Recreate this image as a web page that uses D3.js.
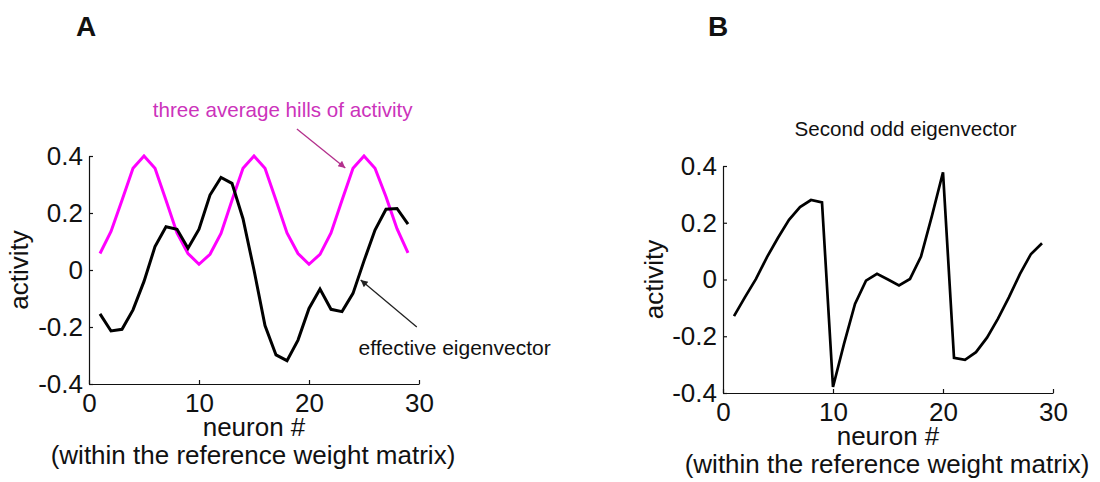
<!DOCTYPE html>
<html>
<head>
<meta charset="utf-8">
<script src="https://cdn.jsdelivr.net/npm/d3@7"></script>
<style>
  body { margin: 0; background: #fff; }
  svg { display: block; font-family: "Liberation Sans", Arial, Helvetica, sans-serif; }
  .axis path, .axis line { stroke: #111; stroke-width: 1.2; }
  .axis text { fill: #111; font-size: 26px; }
</style>
</head>
<body>
<svg id="fig" width="1100" height="482"></svg>
<script>
// neuron index along the reference weight matrix
var neurons = [1, 2, 3, 4, 5, 6, 7, 8, 9, 10, 11, 12, 13, 14, 15, 16, 17, 18, 19, 20, 21, 22, 23, 24, 25, 26, 27, 28, 29];

// panel A: three average hills of activity (magenta)
var hills = [0.058, 0.135, 0.245, 0.357, 0.40, 0.357, 0.245, 0.13, 0.058, 0.02,
             0.055, 0.128, 0.245, 0.357, 0.40, 0.357, 0.245, 0.13, 0.058, 0.02,
             0.055, 0.13, 0.245, 0.357, 0.40, 0.357, 0.257, 0.145, 0.06];

// panel A: effective eigenvector (black)
var effective = [-0.154, -0.214, -0.208, -0.14, -0.04, 0.082, 0.152, 0.143, 0.076, 0.143,
                 0.263, 0.325, 0.304, 0.18, 0.0, -0.195, -0.298, -0.318, -0.246, -0.135,
                 -0.067, -0.138, -0.146, -0.082, 0.032, 0.14, 0.213, 0.216, 0.161];

// panel B: second odd eigenvector
var oddEig = [-0.129, -0.062, 0.002, 0.079, 0.147, 0.21, 0.255, 0.28, 0.272, -0.379,
              -0.227, -0.086, -0.004, 0.02, 0.0, -0.021, 0.002, 0.081, 0.225, 0.378,
              -0.276, -0.283, -0.256, -0.205, -0.138, -0.062, 0.02, 0.09, 0.128];

var xTicks = [0, 10, 20, 30];
var yTicks = [-0.4, -0.2, 0, 0.2, 0.4];
var yTickLabels = ["-0.4", "-0.2", "0", "0.2", "0.4"];

var svg = d3.select("#fig");

var defs = svg.append("defs");
function addArrow(id, color) {
    defs.append("marker")
        .attr("id", id)
        .attr("viewBox", "0 0 10 10")
        .attr("refX", 10).attr("refY", 5)
        .attr("markerWidth", 9).attr("markerHeight", 7)
        .attr("markerUnits", "userSpaceOnUse")
        .attr("orient", "auto")
        .append("path")
        .attr("d", "M0,0 L10,5 L0,10 Z")
        .attr("fill", color);
}
addArrow("headMag", "#b3308c");
addArrow("headBlk", "#222");

function drawPanel(p) {
    var xs = d3.scaleLinear().domain([0, 30]).range([p.left, p.right]);
    var ys = d3.scaleLinear().domain([-0.4, 0.4]).range([p.bottom, p.top]);
    var g = svg.append("g");

    g.append("g")
        .attr("class", "axis")
        .attr("transform", "translate(0," + p.bottom + ")")
        .call(d3.axisBottom(xs).tickValues(xTicks).tickSizeInner(-4).tickSizeOuter(0).tickPadding(10));
    g.append("g")
        .attr("class", "axis")
        .attr("transform", "translate(" + p.left + ",0)")
        .call(d3.axisLeft(ys).tickValues(yTicks).tickSizeInner(-4).tickSizeOuter(0).tickPadding(6)
            .tickFormat(function(d, i) { return yTickLabels[i]; }));
    g.selectAll(".axis").attr("font-family", null).attr("font-size", null);

    var line = d3.line()
        .x(function(d) { return xs(d[0]); })
        .y(function(d) { return ys(d[1]); });

    p.series.forEach(function(s) {
        g.append("path")
            .datum(neurons.map(function(n, i) { return [n, s.values[i]]; }))
            .attr("d", line)
            .attr("fill", "none")
            .attr("stroke", s.color)
            .attr("stroke-width", s.width);
    });

    var cx = (p.left + p.right) / 2;
    g.append("text").attr("x", cx).attr("y", p.bottom + 52)
        .attr("text-anchor", "middle").attr("font-size", 26).attr("fill", "#111")
        .text("neuron #");
    g.append("text").attr("x", cx - 1).attr("y", p.bottom + 80)
        .attr("text-anchor", "middle").attr("font-size", 26).attr("fill", "#111")
        .text("(within the reference weight matrix)");
    g.append("text")
        .attr("transform", "translate(" + p.ylabX + "," + ((p.top + p.bottom) / 2) + ") rotate(-90)")
        .attr("text-anchor", "middle").attr("font-size", 26).attr("fill", "#111")
        .text("activity");
    g.append("text").attr("x", p.letterX).attr("y", 36)
        .attr("font-size", 28).attr("font-weight", "bold").attr("fill", "#111")
        .text(p.letter);

    return { xs: xs, ys: ys, g: g };
}

var A = drawPanel({
    left: 89, right: 419, top: 156, bottom: 384, ylabX: 28, letter: "A", letterX: 76,
    series: [
        { values: hills, color: "#ff00ff", width: 3 },
        { values: effective, color: "#000", width: 3 }
    ]
});

// annotations for panel A
A.g.append("text").attr("x", A.xs(5.8)).attr("y", A.ys(0.537))
    .attr("font-size", 20.6).attr("fill", "#cc33bb")
    .text("three average hills of activity");
A.g.append("line")
    .attr("x1", A.xs(18.9)).attr("y1", A.ys(0.495))
    .attr("x2", A.xs(23.3)).attr("y2", A.ys(0.358))
    .attr("stroke", "#b3308c").attr("stroke-width", 1.3)
    .attr("marker-end", "url(#headMag)");
A.g.append("text").attr("x", A.xs(24.5)).attr("y", A.ys(-0.298))
    .attr("font-size", 21).attr("fill", "#111")
    .text("effective eigenvector");
A.g.append("line")
    .attr("x1", A.xs(29.8)).attr("y1", A.ys(-0.2))
    .attr("x2", A.xs(24.7)).attr("y2", A.ys(-0.035))
    .attr("stroke", "#222").attr("stroke-width", 1.3)
    .attr("marker-end", "url(#headBlk)");

var B = drawPanel({
    left: 723, right: 1053, top: 166, bottom: 393, ylabX: 663, letter: "B", letterX: 708,
    series: [
        { values: oddEig, color: "#000", width: 2.7 }
    ]
});

B.g.append("text").attr("x", B.xs(16.6)).attr("y", 136)
    .attr("text-anchor", "middle").attr("font-size", 20.6).attr("fill", "#111")
    .text("Second odd eigenvector");
</script>
</body>
</html>
